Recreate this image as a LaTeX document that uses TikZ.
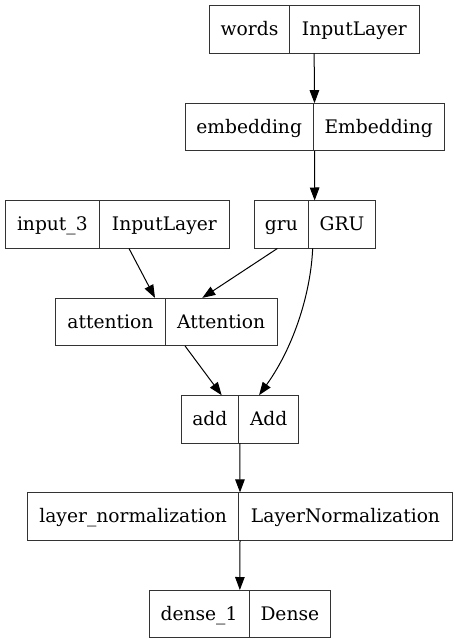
\documentclass[tikz,border=0pt]{standalone}
\usepackage{fontspec}
\setmainfont{DejaVu Serif}
\usetikzlibrary{arrows.meta,calc}
\newcommand\layerbox[7]{%
  \node[rec, minimum width={#4-#2}] (#1) at ({(#2+#4)/2},#5) {};
  \node[cell, minimum width={#3-#2}] (#1L) at ({(#2+#3)/2},#5) {#6};
  \node[cell, minimum width={#4-#3}] (#1R) at ({(#3+#4)/2},#5) {#7};
}
\begin{document}
\begin{tikzpicture}[x=1pt,y=-1pt,
  cell/.style={draw=black!80, line width=1pt, inner sep=0pt, minimum height=47.6pt,
    text height=17pt, text depth=4.6pt,
    font=\fontsize{18.67}{22}\selectfont, anchor=center},
  rec/.style={inner sep=0pt, minimum height=47.6pt, anchor=center},
  edge/.style={draw=black, line width=1pt, -{Triangle[length=13pt,width=9.5pt]}}]
\fill[white] (0,0) rectangle (457,644);
\useasboundingbox (0,0) rectangle (457,644);
\layerbox{words}{209.3}{289.7}{419}{29.5}{words}{InputLayer}
\layerbox{embedding}{185}{313.3}{444}{127.2}{embedding}{Embedding}
\layerbox{input}{5}{99.7}{229}{224.5}{input\_3}{InputLayer}
\layerbox{gru}{254}{308.7}{375.3}{224.5}{gru}{GRU}
\layerbox{attention}{55.7}{165}{277.3}{321.9}{attention}{Attention}
\layerbox{add}{181}{238.7}{298.7}{419.2}{add}{Add}
\layerbox{layer}{27.7}{238.7}{452.3}{516.4}{layer\_normalization}{LayerNormalization}
\layerbox{dense}{149}{249}{330.7}{614}{dense\_1}{Dense}
\draw[edge] (words.south) -- (embedding.north);
\draw[edge] (embedding.south) -- (gru.north);
\draw[edge] ($(input.south)+(12,0)$) -- ($(attention.north)+(-11.5,0)$);
\draw[edge] ($(gru.south)+(-37.3,0)$) -- ($(attention.north)+(35.8,0)$);
\draw[edge] ($(attention.south)+(18.5,0)$) -- ($(add.north)+(-18.2,0)$);
\draw[edge] ($(gru.south)+(-2,0)$) .. controls +(-1.7,42) and +(36,-50) .. ($(add.north)+(19.2,0)$);
\draw[edge] (add.south) -- (layer.north);
\draw[edge] (layer.south) -- (dense.north);
\end{tikzpicture}
\end{document}
